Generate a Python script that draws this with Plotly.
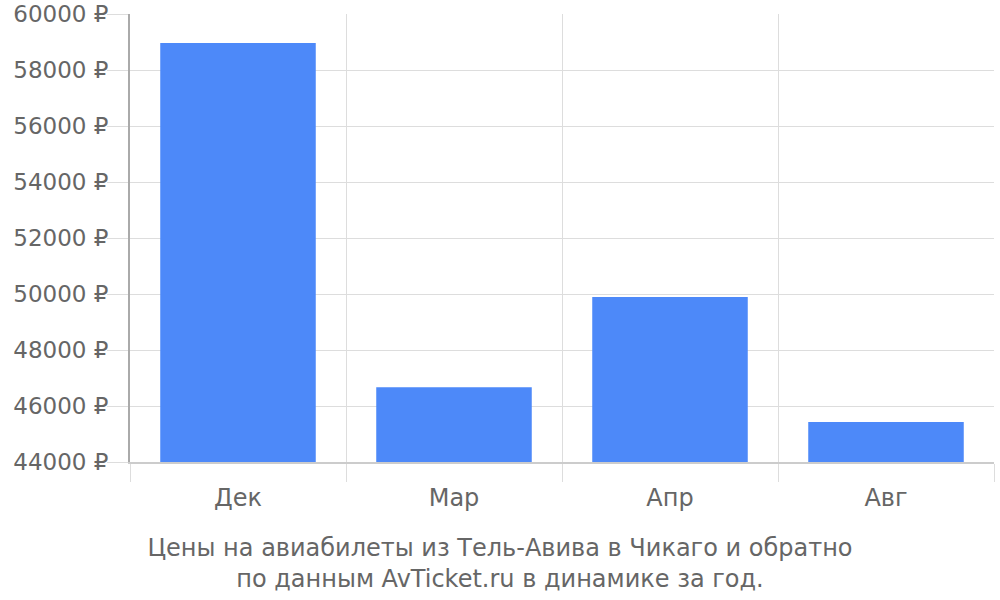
import plotly.graph_objects as go

months = ["Дек", "Мар", "Апр", "Авг"]
prices = [58960, 46670, 49890, 45430]
y_ticks = [44000, 46000, 48000, 50000, 52000, 54000, 56000, 58000, 60000]
y_tick_text = [f"{v} ₽" for v in y_ticks]
title_lines = ["Цены на авиабилеты из Тель-Авива в Чикаго и обратно",
               "по данным AvTicket.ru в динамике за год."]

fig = go.Figure(go.Bar(x=months, y=prices, marker_color="#4d89f9",
                       marker_line_width=0, width=0.72))

font = "DejaVu Sans, sans-serif"
fig.update_layout(
    width=1000, height=600,
    margin=dict(l=130, r=6, t=14, b=138),
    plot_bgcolor="white", paper_bgcolor="white",
    showlegend=False,
    font=dict(family=font, size=20, color="#666666"),
    title=dict(text="<br>".join(title_lines), x=0.5, xref="container", xanchor="center",
               y=1 - 556 / 600, yref="container", yanchor="middle",
               font=dict(family=font, size=24, color="#666666")),
)
fig.update_xaxes(
    type="category", tickson="boundaries", ticks="outside", ticklen=18,
    tickcolor="#dddddd", showgrid=True, gridcolor="#dddddd", gridwidth=1,
    showline=True, linecolor="#cccccc", linewidth=2, automargin=False,
    ticklabelstandoff=13,
    tickfont=dict(size=24, color="#666666"),
)
fig.update_yaxes(
    range=[44000, 60000], tickvals=y_ticks, ticktext=y_tick_text,
    ticks="outside", ticklen=21, tickcolor="#dddddd",
    showgrid=True, gridcolor="#dddddd", gridwidth=1, automargin=False,
    showline=True, linecolor="#aaaaaa", linewidth=2, zeroline=False,
    ticklabelstandoff=-6,
    tickfont=dict(size=23, color="#666666"),
)
fig.write_html("out.html", config={"displayModeBar": False},
               post_script="document.body.style.margin='0';")
